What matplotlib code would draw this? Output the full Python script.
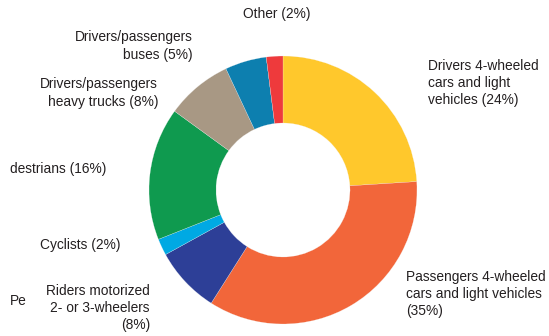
import matplotlib
matplotlib.use("Agg")
import matplotlib.pyplot as plt

# Road traffic deaths by road user type (%)
categories = [
    "Drivers 4-wheeled cars and light vehicles",
    "Passengers 4-wheeled cars and light vehicles",
    "Riders motorized 2- or 3-wheelers",
    "Cyclists",
    "Pedestrians",
    "Drivers/passengers heavy trucks",
    "Drivers/passengers buses",
    "Other",
]
shares = [24, 35, 8, 2, 16, 8, 5, 2]
colors = ["#FFC82C", "#F2663A", "#2D3F97", "#00A9E3", "#0F9A4F",
          "#A89884", "#0D7FAF", "#EE3A3C"]

W, H = 549, 336
fig = plt.figure(figsize=(W / 100, H / 100), dpi=100)
ax = fig.add_axes([0, 0, 1, 1])

cx, cy, r = 283, H - 190, 134
ax.pie(shares, colors=colors, startangle=90, counterclock=False,
       center=(cx, cy), radius=r,
       wedgeprops=dict(width=r * 0.5, edgecolor="#f4f4f4", linewidth=0.15))
ax.set_xlim(0, W)
ax.set_ylim(0, H)
ax.set_aspect("auto")
ax.axis("off")

font = dict(family=["Liberation Sans", "DejaVu Sans"], fontsize=9.9,
            color="#231F20", linespacing=1.3)

def label(px, py, s, ha="left"):
    ax.text(px, H - py, s, ha=ha, va="center", multialignment=ha, **font)

label(243, 14, "Other (2%)")
label(193, 46, "Drivers/passengers\nbuses (5%)", ha="right")
label(158, 93, "Drivers/passengers\nheavy trucks (8%)", ha="right")
label(10, 169, "destrians (16%)")
label(40, 245, "Cyclists (2%)")
label(10, 301, "Pe")
label(150, 308, "Riders motorized\n2- or 3-wheelers\n(8%)", ha="right")
label(428, 83, "Drivers 4-wheeled\ncars and light\nvehicles (24%)")
label(406, 294, "Passengers 4-wheeled\ncars and light vehicles\n(35%)")

fig.savefig("out.png", dpi=100)
